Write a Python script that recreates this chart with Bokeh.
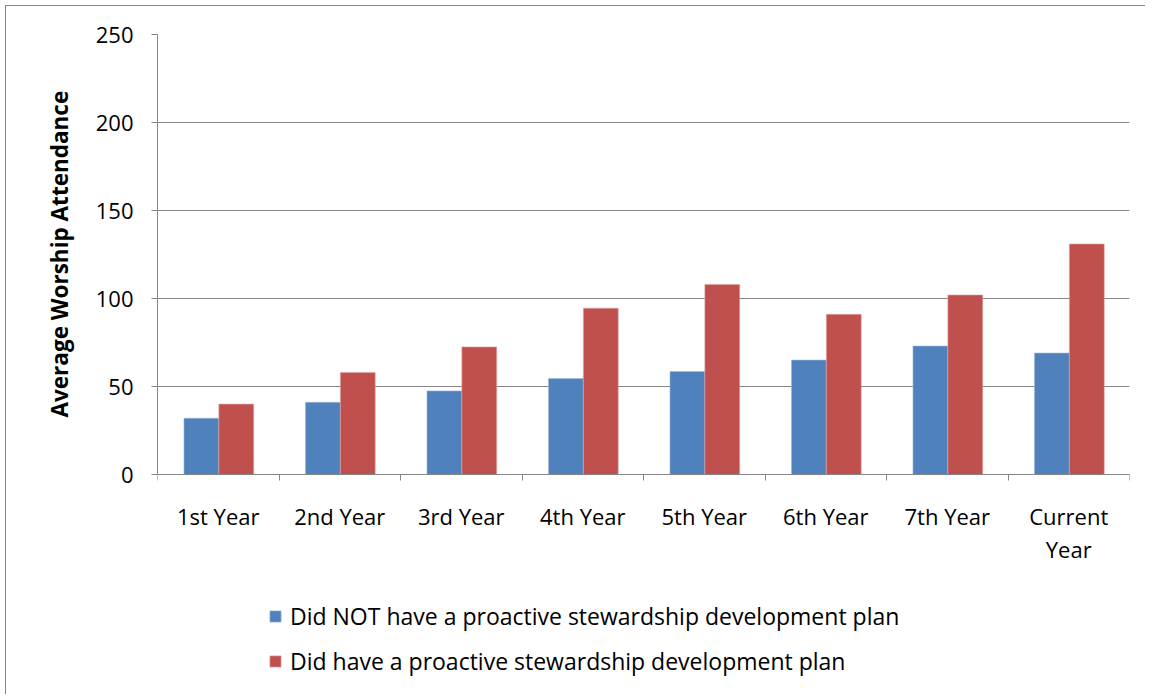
from bokeh.plotting import figure
from bokeh.models import (ColumnDataSource, Range1d, FixedTicker, Legend, LegendItem,
                          LinearAxis, Title)
from bokeh.embed import file_html
from bokeh.resources import INLINE

categories = ["1st Year", "2nd Year", "3rd Year", "4th Year", "5th Year",
              "6th Year", "7th Year", "Current\nYear"]
no_plan = [32, 41, 47.5, 54.5, 58.5, 65, 73, 69]
with_plan = [40, 58, 72.5, 94.5, 108, 91, 102, 131]
series_names = ["Did NOT have a proactive stewardship development plan",
                "Did have a proactive stewardship development plan"]
y_ticks = [0, 50, 100, 150, 200, 250]
y_title = "Average Worship Attendance"

BLUE = "#4F81BD"
RED = "#C0504D"
GRAY = "#868686"
FONT = "Open Sans"

n = len(categories)
centers = [i + 0.5 for i in range(n)]
bar_w = 0.287
src = ColumnDataSource(dict(
    xb=[c - bar_w / 2 + 0.005 for c in centers],
    xr=[c + bar_w / 2 + 0.005 for c in centers],
    nop=no_plan, wp=with_plan,
))

# frame extends below the value axis to hold the category labels and legend
y_max = 250
value_h = 440
px_per_unit = value_h / y_max
frame_h = 656
y_min = y_max - frame_h / px_per_unit

p = figure(output_backend="svg", toolbar_location=None,
           frame_width=972, frame_height=frame_h,
           min_border_left=151, min_border_right=16,
           min_border_top=28, min_border_bottom=4,
           x_range=Range1d(0, n), y_range=Range1d(y_min, y_max),
           x_axis_location=None, y_axis_location=None)
p.styles = {"border-left": f"1px solid {GRAY}", "border-top": f"1px solid {GRAY}",
            "margin-left": "5px", "margin-top": "5px"}
p.outline_line_color = None
p.background_fill_color = "white"
p.border_fill_color = "white"

rb = p.vbar(x="xb", top="nop", width=bar_w, bottom=0, source=src,
            fill_color=BLUE, line_color="#9db8dc", line_width=0.6)
rr = p.vbar(x="xr", top="wp", width=bar_w, bottom=0, source=src,
            fill_color=RED, line_color="#e0a8a6", line_width=0.6)

# x axis, pinned at value 0
xaxis = LinearAxis(fixed_location=0)
xaxis.ticker = FixedTicker(ticks=centers, minor_ticks=list(range(n + 1)))
xaxis.major_label_overrides = {c: lab for c, lab in zip(centers, categories)}
xaxis.major_tick_out = 0
xaxis.major_tick_in = 0
xaxis.minor_tick_out = 6
xaxis.minor_tick_in = 0
xaxis.minor_tick_line_color = GRAY
xaxis.axis_line_color = GRAY
xaxis.major_label_text_font = FONT
xaxis.major_label_text_font_size = "22px"
xaxis.major_label_text_color = "black"
xaxis.major_label_standoff = 20
xaxis.major_label_text_line_height = 1.1
p.add_layout(xaxis, "below")

# y axis
yaxis = LinearAxis(bounds=(0, y_max))
yaxis.ticker = FixedTicker(ticks=y_ticks)
yaxis.minor_tick_line_color = None
yaxis.major_tick_out = 6
yaxis.major_tick_in = 0
yaxis.major_tick_line_color = GRAY
yaxis.axis_line_color = GRAY
yaxis.major_label_text_font = FONT
yaxis.major_label_text_font_size = "22px"
yaxis.major_label_text_color = "black"
yaxis.major_label_standoff = 18
p.add_layout(yaxis, "left")

# y title placed alongside the value part of the frame
title = Title(text=y_title, align="left", offset=frame_h - value_h + 57,
              text_font=FONT, text_font_size="22.5px", text_font_style="bold",
              text_color="black", standoff=35)
p.add_layout(title, "left")

p.ygrid.ticker = FixedTicker(ticks=y_ticks)
p.ygrid.grid_line_color = GRAY
p.ygrid.grid_line_width = 1
p.xgrid.grid_line_color = None

legend = Legend(items=[LegendItem(label=series_names[0], renderers=[rb]),
                       LegendItem(label=series_names[1], renderers=[rr])],
                location=(111, 13), orientation="vertical",
                label_text_font=FONT, label_text_font_size="23px",
                label_text_color="black",
                glyph_width=14, glyph_height=14, label_standoff=8,
                spacing=13, padding=0, margin=0,
                border_line_color=None, background_fill_alpha=0)
p.add_layout(legend, "center")

open("out.html", "w").write(file_html(p, INLINE))
